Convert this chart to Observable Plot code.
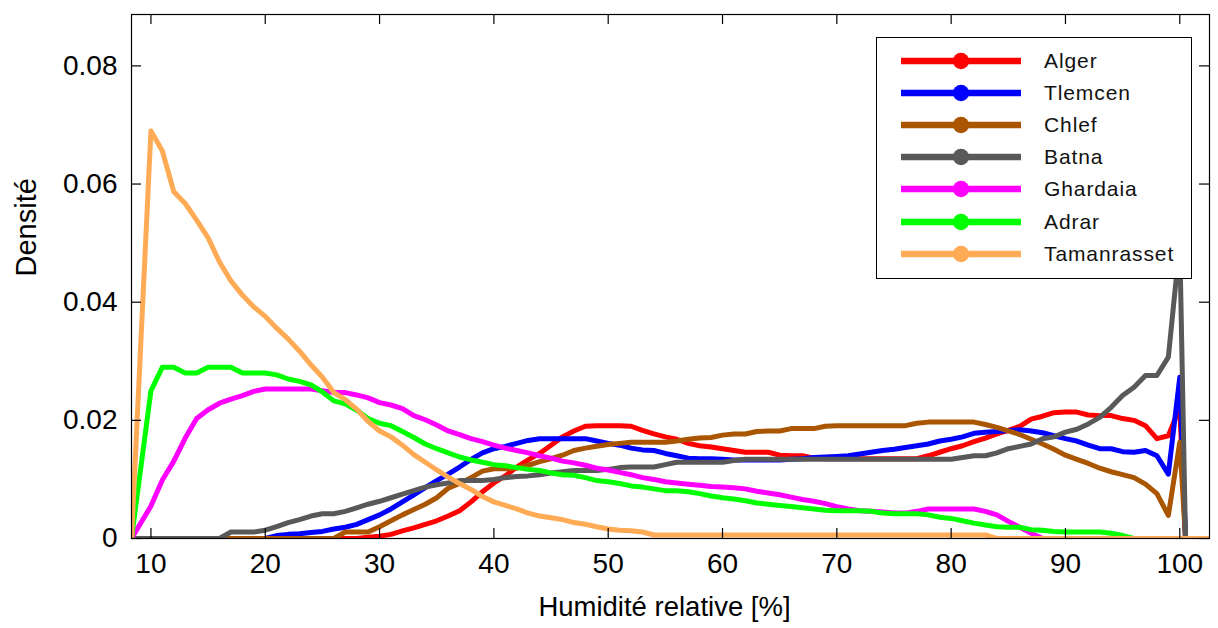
<!DOCTYPE html>
<html>
<head>
<meta charset="utf-8">
<script src="https://cdn.jsdelivr.net/npm/d3@7"></script>
<script src="https://cdn.jsdelivr.net/npm/@observablehq/plot@0.6"></script>
<style>
  body { margin: 0; background: white; }
  #wrap { position: relative; width: 1218px; height: 628px; font-family: "Liberation Sans", Arial, sans-serif; }
  #legend { position: absolute; left: 876px; top: 37px; width: 316px; height: 242px; box-sizing: border-box;
            border: 1px solid black; background: white; }
  .row { position: absolute; left: 0; height: 24px; width: 100%; }
  .row svg { position: absolute; left: 24px; top: 0; }
  .row span { position: absolute; left: 167px; top: 0; line-height: 24px; font-size: 21px; color: #111; letter-spacing: 0.9px; }
</style>
</head>
<body>
<div id="wrap"></div>
<script>
const cities = ["Alger", "Tlemcen", "Chlef", "Batna", "Ghardaia", "Adrar", "Tamanrasset"];
const colors = ["#ff0000", "#0000ff", "#aa5500", "#595959", "#ff00ff", "#00ff00", "#ffaa55"];
const xTicks = [10, 20, 30, 40, 50, 60, 70, 80, 90, 100];
const yTicks = [0, 0.02, 0.04, 0.06, 0.08];

const humidity = [8.3,
 10,11,12,13,14,15,16,17,18,19,
 20,21,22,23,24,25,26,27,28,29,
 30,31,32,33,34,35,36,37,38,39,
 40,41,42,43,44,45,46,47,48,49,
 50,51,52,53,54,55,56,57,58,59,
 60,61,62,63,64,65,66,67,68,69,
 70,71,72,73,74,75,76,77,78,79,
 80,81,82,83,84,85,86,87,88,89,
 90,91,92,93,94,95,96,97,98,99,
 100,
 100.5,102.6];

const alger = [0,
 0,0,0,0,0,0,0,0,0,0,
 0,0,0,0,0,0,0,0,0,0.0002,
 0.0004,0.0007,0.0013,0.0018,0.0024,0.003,0.0038,0.0047,0.0062,0.0079,
 0.0094,0.0106,0.0121,0.0133,0.0144,0.0158,0.0172,0.0182,0.019,0.0191,
 0.0191,0.0191,0.019,0.0183,0.0177,0.0172,0.0168,0.0161,0.0157,0.0155,
 0.0152,0.0149,0.0146,0.0146,0.0146,0.0141,0.014,0.014,0.0136,0.0135,
 0.0135,0.0135,0.0135,0.0135,0.0135,0.0135,0.0135,0.0135,0.014,0.0146,
 0.0152,0.0157,0.0164,0.017,0.0177,0.0183,0.019,0.0202,0.0207,0.0213,
 0.0214,0.0214,0.0209,0.0208,0.0208,0.0203,0.02,0.0191,0.0169,0.0174,
 0.0222,
 0,0];

const tlemcen = [0,
 0,0,0,0,0,0,0,0,0,0,
 0,0.0005,0.0007,0.0008,0.001,0.0012,0.0016,0.0019,0.0024,0.0032,
 0.004,0.005,0.0062,0.0074,0.0086,0.0098,0.0109,0.0121,0.0134,0.0145,
 0.0152,0.0156,0.0161,0.0166,0.0169,0.0169,0.0169,0.0169,0.0169,0.0165,
 0.0161,0.0158,0.0153,0.015,0.0149,0.0144,0.014,0.0136,0.0135,0.0135,
 0.0134,0.0133,0.0133,0.0133,0.0133,0.0133,0.0134,0.0135,0.0137,0.0138,
 0.0139,0.014,0.0143,0.0146,0.0149,0.0151,0.0154,0.0157,0.016,0.0165,
 0.0168,0.0172,0.0178,0.018,0.0181,0.0183,0.0184,0.0182,0.0179,0.0174,
 0.0169,0.0165,0.0158,0.0152,0.0152,0.0147,0.0146,0.0149,0.014,0.0109,
 0.0273,
 0,0];

const chlef = [0,
 0,0,0,0,0,0,0,0,0,0,
 0,0,0,0,0,0,0,0.0011,0.0011,0.0011,
 0.002,0.003,0.004,0.0049,0.0058,0.0069,0.0085,0.0093,0.0103,0.0114,
 0.0118,0.0118,0.0119,0.0124,0.013,0.0135,0.0141,0.0149,0.0153,0.0156,
 0.0159,0.0161,0.0163,0.0163,0.0163,0.0163,0.0165,0.0168,0.017,0.0171,
 0.0175,0.0177,0.0177,0.0181,0.0182,0.0182,0.0186,0.0186,0.0186,0.019,
 0.0191,0.0191,0.0191,0.0191,0.0191,0.0191,0.0191,0.0195,0.0197,0.0197,
 0.0197,0.0197,0.0197,0.0193,0.0188,0.0182,0.0176,0.0168,0.016,0.0151,
 0.0141,0.0134,0.0127,0.0119,0.0113,0.0108,0.0103,0.0092,0.0076,0.0039,
 0.0163,
 0,0];

const batna = [0,
 0,0,0,0,0,0,0,0.0011,0.0011,0.0011,
 0.0014,0.002,0.0027,0.0032,0.0038,0.0042,0.0042,0.0046,0.0052,0.0058,
 0.0063,0.0069,0.0075,0.0081,0.0087,0.0091,0.0094,0.0098,0.0098,0.0098,
 0.01,0.0103,0.0105,0.0106,0.0108,0.0111,0.0113,0.0115,0.0115,0.0115,
 0.0117,0.012,0.0121,0.0121,0.0121,0.0125,0.0129,0.0129,0.0129,0.0129,
 0.0129,0.0132,0.0134,0.0134,0.0134,0.0134,0.0134,0.0134,0.0134,0.0134,
 0.0134,0.0134,0.0134,0.0134,0.0134,0.0134,0.0134,0.0134,0.0134,0.0134,
 0.0134,0.0137,0.014,0.014,0.0145,0.0152,0.0156,0.016,0.0169,0.0172,
 0.018,0.0185,0.0194,0.0205,0.0222,0.0242,0.0256,0.0276,0.0276,0.0307,
 0.05,
 0,0];

const ghardaia = [0,
 0.0055,0.0099,0.0131,0.017,0.0203,0.0218,0.0229,0.0236,0.0242,0.0249,
 0.0253,0.0253,0.0253,0.0253,0.0253,0.025,0.0247,0.0247,0.0243,0.0238,
 0.023,0.0226,0.022,0.0208,0.0201,0.0192,0.0182,0.0176,0.0169,0.0164,
 0.0158,0.0153,0.0149,0.0145,0.014,0.0136,0.0131,0.0128,0.0124,0.0119,
 0.0116,0.0112,0.0108,0.0103,0.01,0.0096,0.0094,0.0092,0.009,0.0088,
 0.0087,0.0086,0.0084,0.008,0.0077,0.0074,0.007,0.0066,0.0063,0.0059,
 0.0054,0.005,0.0047,0.0046,0.0045,0.0043,0.0043,0.0046,0.005,0.005,
 0.005,0.005,0.005,0.0046,0.004,0.0029,0.0019,0.0009,0,0,
 0,0,0,0,0,0,0,0,0,0,
 0,
 0,0];

const adrar = [0,
 0.025,0.029,0.029,0.028,0.028,0.029,0.029,0.029,0.028,0.028,
 0.028,0.0277,0.027,0.0266,0.026,0.0248,0.0233,0.0228,0.0217,0.0203,
 0.0195,0.0191,0.0181,0.0171,0.016,0.0152,0.0145,0.0138,0.0133,0.0129,
 0.0125,0.0123,0.012,0.0117,0.0115,0.0111,0.0108,0.0107,0.0103,0.0098,
 0.0096,0.0093,0.0089,0.0087,0.0084,0.0081,0.0081,0.0079,0.0076,0.0072,
 0.0069,0.0067,0.0064,0.006,0.0058,0.0056,0.0054,0.0052,0.005,0.0048,
 0.0047,0.0047,0.0047,0.0046,0.0043,0.0042,0.0042,0.0042,0.004,0.0036,
 0.0034,0.003,0.0026,0.0023,0.002,0.0019,0.0019,0.0015,0.0014,0.0012,
 0.0011,0.0011,0.0011,0.0011,0.0009,0.0005,0,0,0,0,
 0,
 0,0];

const tamanrasset = [0,
 0.069,0.0656,0.0587,0.0567,0.0539,0.0509,0.0468,0.0436,0.0412,0.0392,
 0.0376,0.0356,0.0338,0.0317,0.0294,0.0273,0.0247,0.0235,0.0219,0.0198,
 0.0182,0.0172,0.0158,0.0142,0.0129,0.0116,0.0104,0.0093,0.0083,0.0071,
 0.0062,0.0056,0.005,0.0043,0.0038,0.0035,0.0032,0.0027,0.0024,0.002,
 0.0016,0.0014,0.0013,0.0011,0.0006,0.0006,0.0006,0.0006,0.0006,0.0006,
 0.0006,0.0006,0.0006,0.0006,0.0006,0.0006,0.0006,0.0006,0.0006,0.0006,
 0.0006,0.0006,0.0006,0.0006,0.0006,0.0006,0.0006,0.0006,0.0006,0.0006,
 0.0006,0.0006,0.0006,0.0006,0,0,0,0,0,0,
 0,0,0,0,0,0,0,0,0,0,
 0,
 0,0];

const seriesValues = [alger, tlemcen, chlef, batna, ghardaia, adrar, tamanrasset];

const W = 1218, H = 628;
const mL = 131, mR = 9, mT = 14, mB = 90;
const plotW = W - mL - mR, plotH = H - mT - mB;
const tickLen = 10;

const lineMarks = cities.map((c, i) => {
  const rows = humidity.map((x, j) => ({x, y: seriesValues[i][j], city: c}));
  return Plot.line(rows, {x: "x", y: "y", stroke: colors[i], strokeWidth: 5, clip: true,
                          strokeLinejoin: "round", strokeLinecap: "butt"});
});

const chart = Plot.plot({
  width: W, height: H,
  marginLeft: mL, marginRight: mR, marginTop: mT, marginBottom: mB,
  style: {fontFamily: "'Liberation Sans', Arial, sans-serif", background: "white", color: "black"},
  x: {domain: [8.3, 102.6]},
  y: {domain: [0, 0.0887]},
  marks: [
    ...lineMarks,
    Plot.frame({stroke: "black", strokeWidth: 1.2}),
    Plot.tickX(xTicks, {x: d => d, insetTop: plotH - tickLen, stroke: "black", strokeWidth: 1.2}),
    Plot.tickX(xTicks, {x: d => d, insetBottom: plotH - tickLen, stroke: "black", strokeWidth: 1.2}),
    Plot.tickY(yTicks, {y: d => d, insetRight: plotW - tickLen, stroke: "black", strokeWidth: 1.2}),
    Plot.tickY(yTicks, {y: d => d, insetLeft: plotW - tickLen, stroke: "black", strokeWidth: 1.2}),
    Plot.axisX({ticks: xTicks, tickSize: 0, tickPadding: 15, fontSize: 28, label: null, tickFormat: d => String(d)}),
    Plot.axisY({ticks: yTicks, tickSize: 0, tickPadding: 14, fontSize: 28, label: null,
                tickFormat: d => d === 0 ? "0" : d.toFixed(2)}),
    Plot.text(["Humidité relative [%]"], {frameAnchor: "bottom", dy: 69, dx: -6, fontSize: 27.5, lineAnchor: "middle", fill: "black"}),
    Plot.text(["Densité"], {frameAnchor: "left", dx: -105, rotate: -90, fontSize: 29, lineAnchor: "middle", fill: "black"})
  ]
});

const wrap = document.getElementById("wrap");
wrap.appendChild(chart);

// Legend (line + marker swatches)
const legend = document.createElement("div");
legend.id = "legend";
cities.forEach((c, i) => {
  const row = document.createElement("div");
  row.className = "row";
  row.style.top = (23 + i * 32.1 - 12) + "px";
  row.innerHTML = `<svg width="122" height="24"><line x1="0" x2="120" y1="12" y2="12" stroke="${colors[i]}" stroke-width="6.5"/><circle cx="60" cy="12" r="8.2" fill="${colors[i]}"/></svg><span>${c}</span>`;
  legend.appendChild(row);
});
wrap.appendChild(legend);
</script>
</body>
</html>
